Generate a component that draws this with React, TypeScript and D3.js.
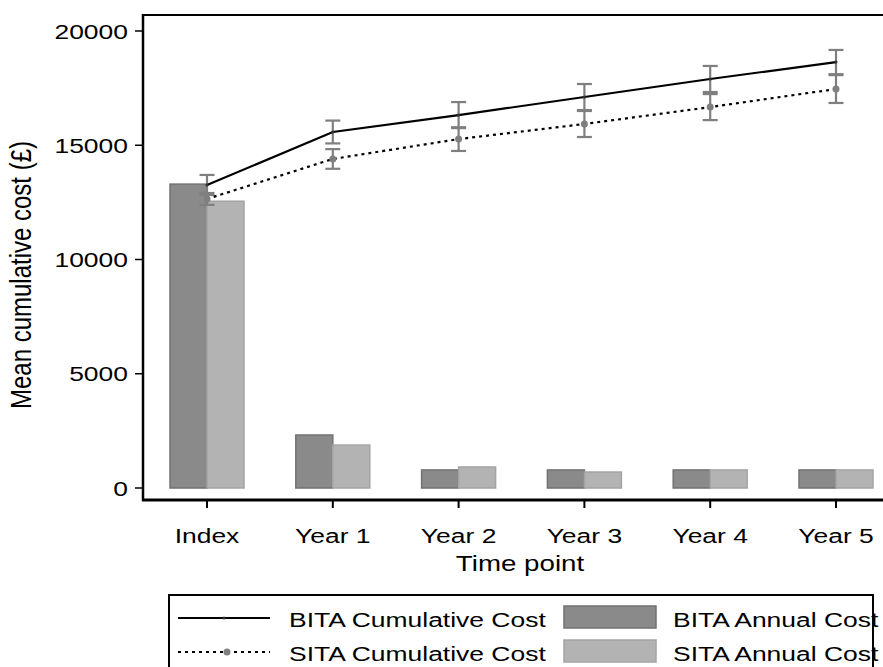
import React from 'react';
import * as d3 from 'd3';

const categories = ['Index', 'Year 1', 'Year 2', 'Year 3', 'Year 4', 'Year 5'];
const bitaAnnual = [13300, 2320, 790, 790, 790, 790];
const sitaAnnual = [12550, 1880, 920, 700, 790, 790];
const bitaCumulative = [13260, 15580, 16320, 17110, 17900, 18640];
const sitaCumulative = [12650, 14400, 15270, 15930, 16670, 17460];
const bitaError = [440, 500, 570, 570, 570, 530];
const sitaError = [260, 430, 520, 570, 570, 610];
const yTicks = [0, 5000, 10000, 15000, 20000];

const W = 883;
const H = 667;
const FONT = '"Liberation Sans", Arial, sans-serif';
const SX = 1.26; // the original is stretched horizontally

// text stretched along screen x
const Txt: React.FC<{ x: number; y: number; anchor?: string; size?: number; children: React.ReactNode }> = ({ x, y, anchor = 'start', size = 21, children }) => (
  <text
    transform={`translate(${x},${y}) scale(${SX},1)`}
    textAnchor={anchor}
    fontFamily={FONT}
    fontSize={size}
    fill="#000"
  >
    {children}
  </text>
);

const App: React.FC = () => {
  const x = d3.scalePoint<string>().domain(categories).range([207, 836]);
  const y = d3.scaleLinear().domain([0, 20000]).range([488, 31]);
  const barW = 37;

  const line = d3.line<number>()
    .x((_, i) => x(categories[i]) as number)
    .y(d => y(d));

  const capW = 7.5;

  return (
    <svg width={W} height={H} style={{ position: 'absolute', left: 0, top: 0, background: '#fff' }}>
      {/* bars */}
      {categories.map((c, i) => {
        const cx = x(c) as number;
        return (
          <g key={c}>
            <rect x={cx - barW} y={y(bitaAnnual[i])} width={barW} height={y(0) - y(bitaAnnual[i])}
              fill="#8a8a8a" stroke="#727272" strokeWidth={1.5} />
            <rect x={cx} y={y(sitaAnnual[i])} width={barW} height={y(0) - y(sitaAnnual[i])}
              fill="#b3b3b3" stroke="#a4a4a4" strokeWidth={1.5} />
          </g>
        );
      })}

      {/* error bars */}
      {categories.map((c, i) => {
        const cx = x(c) as number;
        const bars = [
          { v: bitaCumulative[i], e: bitaError[i] },
          { v: sitaCumulative[i], e: sitaError[i] },
        ];
        return (
          <g key={'e' + c} stroke="#7f7f7f" strokeWidth={2.2}>
            {bars.map((b, k) => (
              <g key={k}>
                <line x1={cx} x2={cx} y1={y(b.v + b.e)} y2={y(b.v - b.e)} />
                <line x1={cx - capW} x2={cx + capW} y1={y(b.v + b.e)} y2={y(b.v + b.e)} />
                <line x1={cx - capW} x2={cx + capW} y1={y(b.v - b.e)} y2={y(b.v - b.e)} />
              </g>
            ))}
          </g>
        );
      })}

      {/* cumulative lines */}
      <path d={line(bitaCumulative) || ''} fill="none" stroke="#000" strokeWidth={2.2} />
      <path d={line(sitaCumulative) || ''} fill="none" stroke="#000" strokeWidth={2.2} strokeDasharray="3,4" />
      {sitaCumulative.map((v, i) => (
        <circle key={'s' + i} cx={x(categories[i]) as number} cy={y(v)} r={3.5} fill="#7f7f7f" />
      ))}
      {bitaCumulative.map((v, i) => (
        <circle key={'b' + i} cx={x(categories[i]) as number} cy={y(v)} r={1.5} fill="#333" />
      ))}

      {/* frame and axes */}
      <line x1={143} x2={W + 5} y1={15} y2={15} stroke="#000" strokeWidth={2} />
      <line x1={143} x2={143} y1={14} y2={501} stroke="#000" strokeWidth={2.5} />
      <line x1={142} x2={W + 5} y1={500} y2={500} stroke="#000" strokeWidth={3} />

      {yTicks.map(t => (
        <g key={t}>
          <line x1={135} x2={143} y1={y(t)} y2={y(t)} stroke="#000" strokeWidth={1.5} />
          <Txt x={128} y={y(t) + 7.5} anchor="end">{t}</Txt>
        </g>
      ))}
      {categories.map(c => (
        <g key={'t' + c}>
          <line x1={x(c) as number} x2={x(c) as number} y1={500} y2={508} stroke="#000" strokeWidth={2} />
          <Txt x={x(c) as number} y={543} anchor="middle">{c}</Txt>
        </g>
      ))}

      <Txt x={520} y={571} anchor="middle" size={22}>Time point</Txt>
      <text
        transform={`translate(31,275) scale(${SX},1) rotate(-90)`}
        textAnchor="middle"
        fontFamily={FONT}
        fontSize={24}
      >
        Mean cumulative cost (£)
      </text>

      {/* legend */}
      <rect x={169} y={595} width={704} height={90} fill="none" stroke="#000" strokeWidth={2} />
      <line x1={178} x2={270} y1={618} y2={618} stroke="#000" strokeWidth={2.2} />
      <circle cx={224} cy={618} r={1.5} fill="#333" />
      <line x1={178} x2={270} y1={652} y2={652} stroke="#000" strokeWidth={2.2} strokeDasharray="3,4" />
      <circle cx={227} cy={652} r={3.5} fill="#7f7f7f" />
      <Txt x={289} y={627}>BITA Cumulative Cost</Txt>
      <Txt x={289} y={661}>SITA Cumulative Cost</Txt>
      <rect x={564} y={606} width={92} height={22} fill="#8a8a8a" stroke="#727272" strokeWidth={1.5} />
      <rect x={564} y={640} width={92} height={22} fill="#b3b3b3" stroke="#a4a4a4" strokeWidth={1.5} />
      <Txt x={673} y={627}>BITA Annual Cost</Txt>
      <Txt x={673} y={661}>SITA Annual Cost</Txt>
    </svg>
  );
};

export default App;
